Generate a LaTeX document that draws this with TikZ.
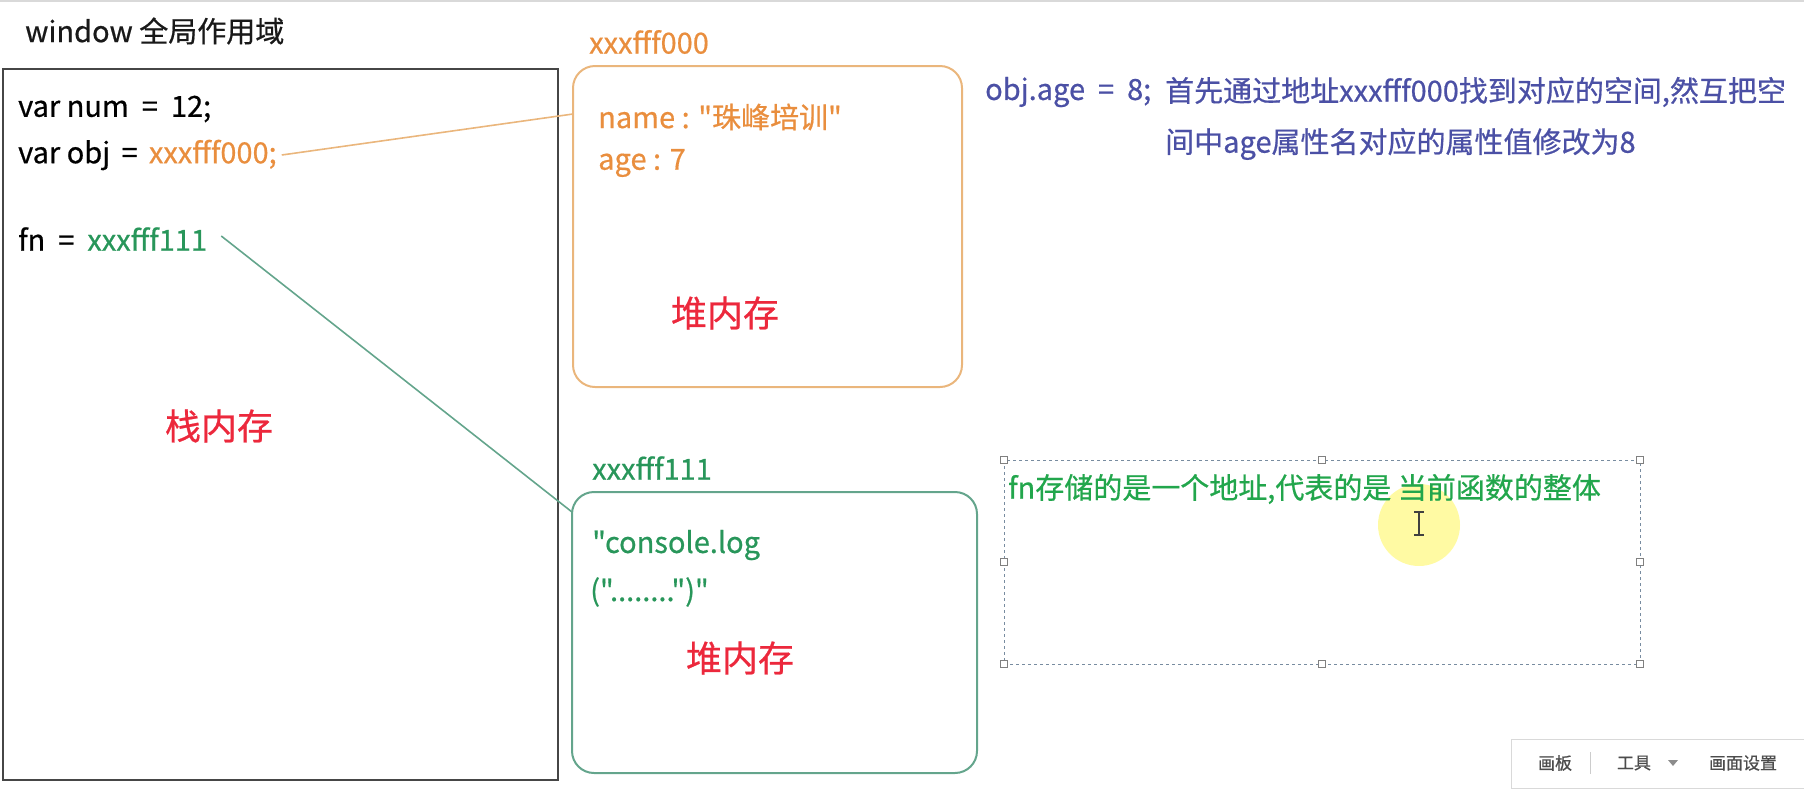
\documentclass[tikz,border=0pt]{standalone}
\usepackage{fontspec}
\setmainfont{Noto Sans CJK SC}[Ligatures=TeXOff, UprightFeatures={FakeBold=0.6}]
\usetikzlibrary{positioning,shadows}

\definecolor{stackgray}{RGB}{70,70,70}
\definecolor{heaporange}{RGB}{233,142,62}
\definecolor{orangeline}{RGB}{234,182,124}
\definecolor{heapgreen}{RGB}{40,150,90}
\definecolor{greenline}{RGB}{100,165,140}
\definecolor{memred}{RGB}{236,40,60}
\definecolor{noteblue}{RGB}{75,80,165}
\definecolor{dashgray}{RGB}{120,140,160}

\tikzset{
  codetext/.style={anchor=west, inner sep=0pt, font=\fontsize{29}{34}\selectfont},
  memlabel/.style={text=memred, inner sep=0pt, font=\fontsize{36}{42}\selectfont},
  heapbox/.style={draw, line width=2pt, rounded corners=22pt, anchor=north west, inner sep=0pt, outer sep=0pt},
  handle/.style={draw=gray, fill=white, line width=0.8pt, minimum size=7pt, inner sep=0pt},
  tooltext/.style={text=black!70, inner sep=0pt, font=\fontsize{17}{20}\selectfont},
}

\begin{document}
\begin{tikzpicture}[x=1pt, y=-1pt]
    \useasboundingbox (0,0) rectangle (1804,788);
    \draw[black!15, line width=2pt] (0,1) -- (1804,1);

    % Stack memory (window scope)
    \node[codetext, text=black!90] (title) at (25,31) {window 全局作用域};
    \node[draw=stackgray, line width=2.5pt, minimum width=555pt, minimum height=711pt,
          anchor=north west, inner sep=0pt, outer sep=0pt] (stack) at (3,69) {};
    \node[codetext] (numline) at (18,109) {var num \ = \ 12;};
    \node[codetext] (objline) at (18,155) {var obj \,=\, \textcolor{heaporange}{xxxfff000;\,}};
    \node[codetext] (fnline) at (18,239) {fn \ = \ \textcolor{heapgreen}{xxxfff111}};
    \node[memlabel] (stacklabel) at (219,426) {栈内存};

    % Heap for the object
    \node[codetext, text=heaporange] (addrA) at (589,42) {xxxfff000};
    \node[heapbox, draw=orangeline, minimum width=389pt, minimum height=321pt] (heapA) at (573,66) {};
    \node[codetext, text=heaporange] (nameline) at (598,117) {name : "珠峰培训"};
    \node[codetext, text=heaporange] (ageline) at (598,163) {age : 7};
    \node[memlabel] (heaplabelA) at (725,313) {堆内存};

    % Heap for the function
    \node[codetext, text=heapgreen] (addrB) at (592,468) {xxxfff111};
    \node[heapbox, draw=greenline, minimum width=405pt, minimum height=281pt] (heapB) at (572,492) {};
    \node[codetext, text=heapgreen] (logline) at (592,545) {"console.log};
    \node[codetext, text=heapgreen] (argline) at (590,592) {("........")"};
    \node[memlabel] (heaplabelB) at (740,658) {堆内存};

    % References from the stack to the heap
    \draw[orangeline, line width=1.6pt] (objline.east) -- ([yshift=-48pt]heapA.north west);
    \draw[greenline, line width=1.6pt] ([xshift=14pt,yshift=3pt]fnline.east) -- ([yshift=-20pt]heapB.north west);

    % Note on obj.age
    \node[codetext, text=noteblue] (setage) at (985,92) {obj.age \ = \ 8;};
    \node[codetext, text=noteblue] (noteA) at (1165,92) {首先通过地址xxxfff000找到对应的空间,然互把空};
    \node[codetext, text=noteblue] (noteB) at (1165,144) {间中age属性名对应的属性值修改为8};

    % Selected text box on fn
    \node[draw=dashgray, dashed, line width=1pt, minimum width=636pt, minimum height=204pt,
          anchor=north west, inner sep=0pt, outer sep=0pt] (fnbox) at (1004,460) {};
    \foreach \a in {north west, north, north east, east, south east, south, south west, west}
      \node[handle] at (fnbox.\a) {};
    \fill[yellow!45!white, opacity=0.8] (1419,525) circle (41pt);
    \node[codetext, text=heapgreen!85!green] (fnnote) at (1008,489) {fn存储的是一个地址,代表的是 当前函数的整体};
    \draw[black!75, line width=1.5pt] (1419,512) -- (1419,535)
      (1414,512) -- (1424,512) (1414,535) -- (1424,535);

    % Toolbar
    \node[draw=black!15, fill=white, drop shadow={opacity=0.12, shadow xshift=0pt, shadow yshift=-2pt},
          minimum width=293pt, minimum height=49pt, anchor=north west, inner sep=0pt] (toolbar) at (1511,739) {};
    \node[tooltext] (board) at (1555,763) {画板};
    \draw[black!20, line width=1pt] (1590,752) -- (1590,774);
    \node[tooltext] (tools) at (1634,763) {工具};
    \fill[black!45] (1668,760) -- (1678,760) -- (1673,766) -- cycle;
    \node[tooltext] (settings) at (1743,763) {画面设置};
\end{tikzpicture}
\end{document}
